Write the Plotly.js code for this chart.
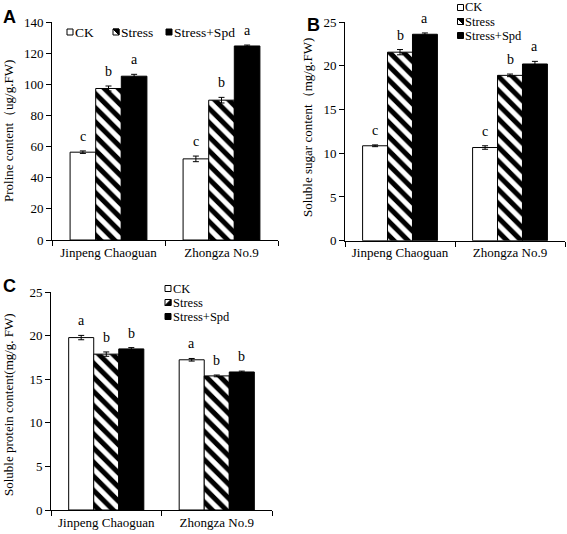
<!DOCTYPE html>
<html><head><meta charset="utf-8">
<script src="https://cdn.plot.ly/plotly-3.0.1.min.js"></script>
<style>body{margin:0;background:#fff}#chart{width:567px;height:534px}</style>
</head><body><div id="chart"></div>
<script>
const categories = ['Jinpeng Chaoguan', 'Zhongza No.9'];
const seriesNames = ['CK', 'Stress', 'Stress+Spd'];

// Panel A: proline content
const prolineCK = [56.4, 52.1];
const prolineStress = [97.3, 89.8];
const prolineSpd = [105.2, 124.6];
const prolineCKErr = [0.8, 1.8];
const prolineStressErr = [1.6, 1.8];
const prolineSpdErr = [1.2, 0.6];
const prolineLetters = [['c', 'c'], ['b', 'b'], ['a', 'a']];

// Panel B: soluble sugar content
const sugarCK = [10.85, 10.65];
const sugarStress = [21.55, 18.9];
const sugarSpd = [23.6, 20.2];
const sugarCKErr = [0.1, 0.2];
const sugarStressErr = [0.3, 0.15];
const sugarSpdErr = [0.15, 0.3];
const sugarLetters = [['c', 'c'], ['b', 'b'], ['a', 'a']];

// Panel C: soluble protein content
const proteinCK = [19.8, 17.25];
const proteinStress = [17.9, 15.4];
const proteinSpd = [18.5, 15.85];
const proteinCKErr = [0.25, 0.15];
const proteinStressErr = [0.25, 0.1];
const proteinSpdErr = [0.15, 0.1];
const proteinLetters = [['a', 'a'], ['b', 'b'], ['b', 'b']];

const W = 567, H = 534;
const SERIF = 'Liberation Serif, Times New Roman, serif';
const bargap = 0.32;

const styles = [
  {color: '#ffffff', line: {color: '#000', width: 1}},
  {color: '#ffffff', line: {color: '#000', width: 1},
   pattern: {shape: '\\', fgcolor: '#000', bgcolor: '#fff', size: 10, solidity: 0.5}},
  {color: '#000000', line: {color: '#000', width: 1}}
];

const panels = [
  {ax: '', vals: [prolineCK, prolineStress, prolineSpd], errs: [prolineCKErr, prolineStressErr, prolineSpdErr], letters: prolineLetters},
  {ax: '2', vals: [sugarCK, sugarStress, sugarSpd], errs: [sugarCKErr, sugarStressErr, sugarSpdErr], letters: sugarLetters},
  {ax: '3', vals: [proteinCK, proteinStress, proteinSpd], errs: [proteinCKErr, proteinStressErr, proteinSpdErr], letters: proteinLetters}
];

function px(x) { return x / W; }
function py(y) { return 1 - y / H; }

const traces = [];
const annotations = [];
const shapes = [];
panels.forEach(p => {
  for (let k = 0; k < 3; k++) {
    traces.push({
      type: 'bar', x: categories, y: p.vals[k], name: seriesNames[k],
      xaxis: 'x' + p.ax, yaxis: 'y' + p.ax, showlegend: false,
      marker: styles[k],
      error_y: {type: 'data', array: p.errs[k], visible: true, color: '#000', thickness: 1, width: 3},
      hoverinfo: 'y'
    });
    for (let i = 0; i < categories.length; i++) {
      annotations.push({
        xref: 'x' + p.ax, yref: 'y' + p.ax,
        x: i + (k - 1) * (1 - bargap) / 3, y: p.vals[k][i] + p.errs[k][i],
        text: p.letters[k][i], showarrow: false, yanchor: 'bottom', yshift: 5,
        font: {family: SERIF, size: 14, color: '#000'}
      });
    }
  }
});

// Legends (compact keys as in the original figure)
const legends = [
  {items: [{x: 67, y: 32}, {x: 113, y: 32}, {x: 166, y: 32}], flip: false, size: 13.5},
  {items: [{x: 457.5, y: 7.5}, {x: 457.5, y: 21.5}, {x: 457.5, y: 35.5}], flip: false, size: 12.5},
  {items: [{x: 165, y: 288.5}, {x: 165, y: 302.5}, {x: 165, y: 316.5}], flip: true, size: 12.5}
];
const S = 6;
legends.forEach(lg => {
  lg.items.forEach((it, k) => {
    const x0 = px(it.x), x1 = px(it.x + S), y0 = py(it.y + S / 2), y1 = py(it.y - S / 2);
    shapes.push({type: 'rect', xref: 'paper', yref: 'paper', x0: x0, x1: x1, y0: y0, y1: y1,
      fillcolor: k === 2 ? '#000' : '#fff', line: {color: '#000', width: 1}});
    if (k === 1) {
      const path = lg.flip
        ? `M${x0},${y0} L${x1},${y0} L${x1},${y1} Z`
        : `M${x0},${y1} L${x1},${y1} L${x1},${y0} Z`;
      shapes.push({type: 'path', xref: 'paper', yref: 'paper', path: path,
        fillcolor: '#000', line: {color: '#000', width: 1}});
    }
    annotations.push({xref: 'paper', yref: 'paper', x: px(it.x + S + 0.5), y: py(it.y),
      text: seriesNames[k], showarrow: false, xanchor: 'left', yanchor: 'middle', borderpad: 0,
      font: {family: SERIF, size: lg.size, color: '#000'}});
  });
});

const yTitles = [
  {text: 'Proline content（ug/g.FW)', x: 8, y: 131},
  {text: 'Soluble sugar content（mg/g.FW)', x: 307, y: 128},
  {text: 'Soluble protein content(mg/g. FW)', x: 8, y: 405}
];
yTitles.forEach(t => annotations.push({
  xref: 'paper', yref: 'paper', x: px(t.x), y: py(t.y), text: t.text, textangle: -90,
  showarrow: false, xanchor: 'center', yanchor: 'middle',
  font: {family: SERIF, size: 13, color: '#000'}
}));

const panelLabels = [
  {text: 'A', x: 9, y: 17},
  {text: 'B', x: 313, y: 25},
  {text: 'C', x: 9, y: 286}
];
panelLabels.forEach(t => annotations.push({
  xref: 'paper', yref: 'paper', x: px(t.x), y: py(t.y), text: '<b>' + t.text + '</b>',
  showarrow: false, xanchor: 'center', yanchor: 'middle',
  font: {family: 'Liberation Sans, Arial, sans-serif', size: 18, color: '#000'}
}));

const xBase = {
  type: 'category', showline: true, linecolor: '#000', linewidth: 1, ticks: 'outside',
  tickson: 'boundaries', ticklen: 5, tickcolor: '#000', showgrid: false, zeroline: false,
  tickfont: {family: SERIF, size: 13, color: '#000'}, fixedrange: true
};
const yBase = {
  showline: true, linecolor: '#000', linewidth: 1, ticks: 'outside', ticklen: 5,
  tickcolor: '#000', showgrid: false, zeroline: false,
  tickfont: {family: SERIF, size: 13, color: '#000'}, fixedrange: true
};

const layout = {
  width: W, height: H, margin: {l: 0, r: 0, t: 0, b: 0},
  paper_bgcolor: '#fff', plot_bgcolor: '#fff',
  barmode: 'group', bargap: bargap, bargroupgap: 0,
  font: {family: SERIF, color: '#000'},
  xaxis: Object.assign({}, xBase, {domain: [px(52), px(278)], anchor: 'y'}),
  yaxis: Object.assign({}, yBase, {domain: [py(240), py(22)], range: [0, 140], dtick: 20, anchor: 'x'}),
  xaxis2: Object.assign({}, xBase, {domain: [px(345), px(565)], anchor: 'y2'}),
  yaxis2: Object.assign({}, yBase, {domain: [py(240.7), py(22)], range: [0, 25], dtick: 5, anchor: 'x2'}),
  xaxis3: Object.assign({}, xBase, {domain: [px(51), px(272)], anchor: 'y3'}),
  yaxis3: Object.assign({}, yBase, {domain: [py(510), py(292.3)], range: [0, 25], dtick: 5, anchor: 'x3'}),
  annotations: annotations,
  shapes: shapes,
  showlegend: false
};

Plotly.newPlot('chart', traces, layout, {displayModeBar: false, staticPlot: true});
</script>
</body></html>
